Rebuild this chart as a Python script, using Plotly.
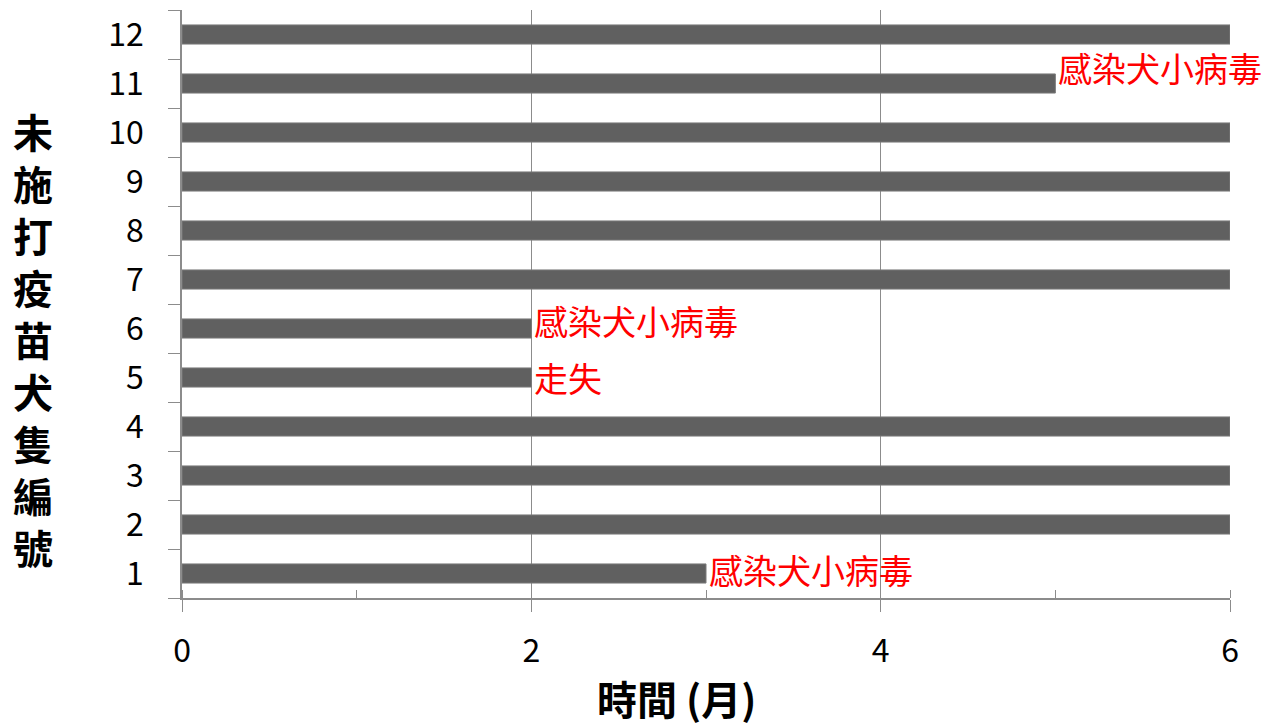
import plotly.graph_objects as go

# dog number (1-12) and months followed before the event / end of study
dogs = [str(i) for i in range(1, 13)]
months = [3, 6, 6, 6, 2, 2, 6, 6, 6, 6, 5, 6]
# red notes at the end of some bars
note_dogs = ['1', '5', '6', '11']
note_text = ['感染犬小病毒', '走失', '感染犬小病毒', '感染犬小病毒']
x_ticks = [0, 2, 4, 6]

font_cjk = 'Noto Sans CJK TC'
axis_gray = '#8c8c8c'

fig = go.Figure()
fig.add_trace(go.Bar(
    y=dogs, x=months, orientation='h',
    marker=dict(color='#606060', line=dict(color='#7a7a7a', width=1)),
    width=0.39, hoverinfo='x+y',
))

# notes, shifted up a bit like the original
note_shift = [4, 0, 8, 16]
for d, t, s in zip(note_dogs, note_text, note_shift):
    i = dogs.index(d)  # category index, the names look numeric
    fig.add_annotation(x=months[i], y=i, text=t, showarrow=False,
                       xanchor='left', yanchor='middle', xshift=1, yshift=s,
                       font=dict(family=font_cjk, size=34, color='#ff0000'))

# vertical y title, one character per line
fig.add_annotation(xref='paper', yref='paper', x=-0.142, y=0.44,
                   text='<br>'.join('未施打疫苗犬隻編號'), showarrow=False,
                   xanchor='center', yanchor='middle',
                   font=dict(family=font_cjk, size=40, color='black', weight='bold'))
# x title
fig.add_annotation(xref='paper', yref='paper', x=0.472, y=-0.17,
                   text='時間 (月)', showarrow=False, xanchor='center', yanchor='middle',
                   font=dict(family=font_cjk, size=40, color='black', weight='bold'))

fig.update_layout(
    width=1264, height=726,
    margin=dict(l=182, r=34, t=10, b=128),
    paper_bgcolor='white', plot_bgcolor='white',
    showlegend=False,
    font=dict(family=font_cjk, size=32, color='black'),
    xaxis=dict(range=[0, 6], tickvals=x_ticks, showgrid=True, gridcolor=axis_gray, gridwidth=1,
               showline=True, linecolor=axis_gray, linewidth=1.5, zeroline=False,
               ticks='outside', ticklen=12, tickcolor=axis_gray, ticklabelstandoff=12,
               minor=dict(dtick=1, ticks='inside', ticklen=8, tickcolor=axis_gray, showgrid=False)),
    yaxis=dict(categoryorder='array', categoryarray=dogs, tickson='boundaries',
               showline=True, linecolor=axis_gray, linewidth=1.5, showgrid=False,
               ticks='outside', ticklen=12, tickcolor=axis_gray, ticklabelstandoff=30),
)

# drop the page's default body margin so the figure sits at the top-left corner
fig.write_html('out.html', config={'displayModeBar': False},
               post_script="document.body.style.margin='0';")
